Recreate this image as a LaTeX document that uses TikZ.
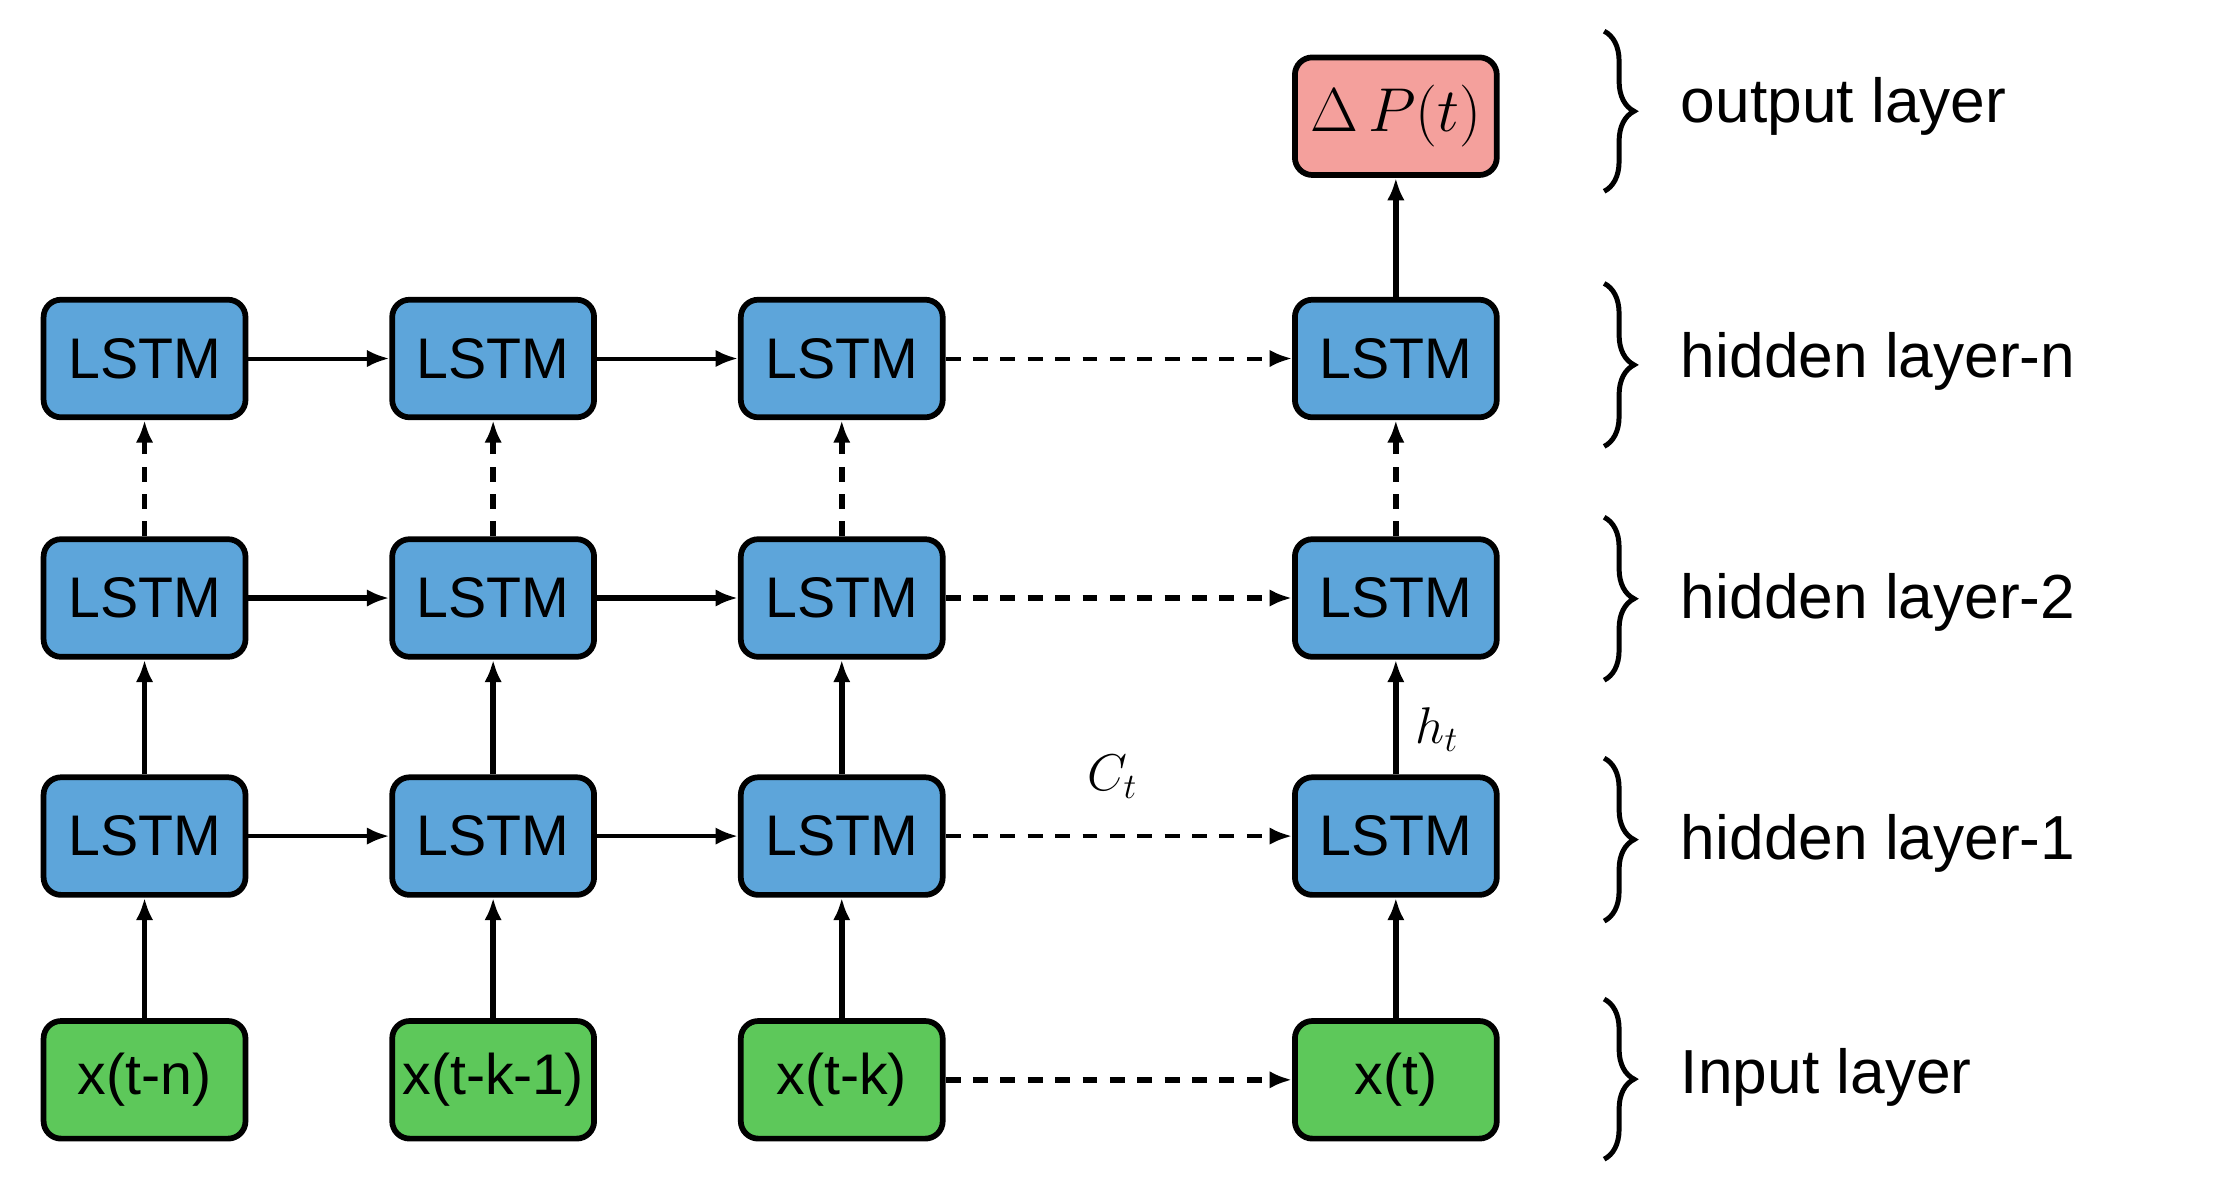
\documentclass[tikz,border=0pt]{standalone}
\usepackage{fontspec}
\setmainfont{Liberation Sans}
\usetikzlibrary{decorations.pathreplacing,arrows.meta}
\definecolor{lblue}{HTML}{5DA5DA}
\definecolor{lgreen}{HTML}{5DC85A}
\definecolor{lred}{HTML}{F4A09C}
\begin{document}
\begin{tikzpicture}[x=0.02cm,y=-0.02cm,
 box/.style={draw=black,line width=2.3pt,rounded corners=7pt,minimum width=2.85cm,minimum height=1.66cm,inner sep=0pt,font=\fontsize{23}{23}\selectfont},
 lstm/.style={box,fill=lblue},
 inp/.style={box,fill=lgreen},
 arr/.style={-{Latex[length=9pt,width=7pt]},line width=1.6pt},
 varr/.style={-{Latex[length=9pt,width=7pt]},line width=2.3pt},
 dsh/.style={dash pattern=on 6pt off 5pt},
 br/.style={decorate,decoration={brace,amplitude=12pt},line width=2pt},
 lab/.style={anchor=west,font=\fontsize{25}{25}\selectfont}]
\useasboundingbox (0,0) rectangle (1568,847);
\foreach \c/\x in {1/102,2/348,3/594,4/985}{
 \node[lstm] (n\c) at (\x,253) {LSTM};
 \node[lstm] (b\c) at (\x,422) {LSTM};
 \node[lstm] (a\c) at (\x,590) {LSTM};
}
\node[inp] (i1) at (102,762) {x(t-n)};
\node[inp] (i2) at (348,762) {x(t-k-1)};
\node[inp] (i3) at (594,762) {x(t-k)};
\node[inp] (i4) at (985,762) {x(t)};
\node[box,fill=lred] (o) at (985,82) {$\Delta\,P(t)$};
\foreach \c in {1,2,3,4}{
 \draw[varr] (i\c) -- (a\c);
 \draw[varr] (a\c) -- (b\c);
 \draw[varr,dsh] (b\c) -- (n\c);
}
\draw[varr] (n4) -- (o);
\foreach \r in {n,a}{
 \draw[arr] (\r1) -- (\r2); \draw[arr] (\r2) -- (\r3); \draw[arr,dsh] (\r3) -- (\r4);}
\draw[varr] (b1) -- (b2); \draw[varr] (b2) -- (b3); \draw[varr,dsh] (b3) -- (b4);
\draw[varr,dsh] (i3) -- (i4);
\node[font=\fontsize{20}{20}\selectfont] (ct) at (785,548) {$C_t$};
\node[font=\fontsize{20}{20}\selectfont] (ht) at (1014,515) {$h_t$};
\foreach \t/\b/\y/\s in {22/135/75/output layer,200/315/255/hidden layer-n,365/480/425/hidden layer-2,535/650/595/hidden layer-1,705/818/760/Input layer}{
 \draw[br] (1132,\t) -- (1132,\b);
 \node[lab] at (1180,\y) {\s};
}
\end{tikzpicture}
\end{document}
